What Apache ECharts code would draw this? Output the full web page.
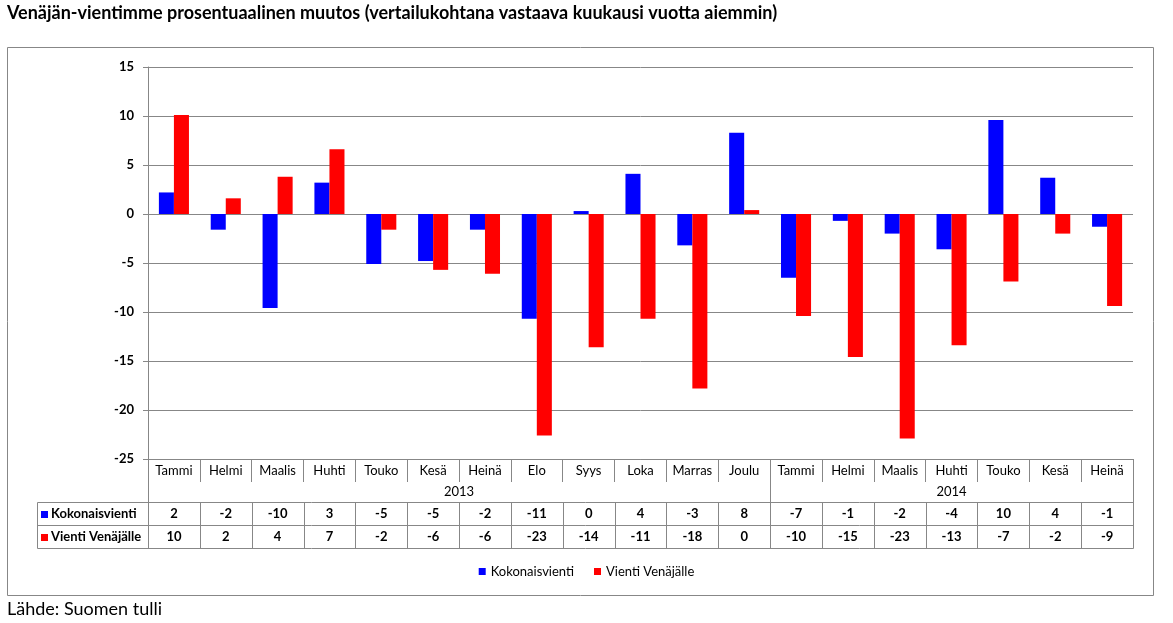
<!DOCTYPE html>
<html>
<head>
<meta charset="utf-8">
<script src="https://cdn.jsdelivr.net/npm/echarts@6/dist/echarts.min.js"></script>
<style>
html,body{margin:0;padding:0;background:#fff;}
#main{width:1173px;height:623px;}
</style>
</head>
<body>
<div id="main"></div>
<script>
const titleText = 'Venäjän-vientimme prosentuaalinen muutos (vertailukohtana vastaava kuukausi vuotta aiemmin)';
const sourceText = 'Lähde: Suomen tulli';
const months = ['Tammi','Helmi','Maalis','Huhti','Touko','Kesä','Heinä','Elo','Syys','Loka','Marras','Joulu','Tammi','Helmi','Maalis','Huhti','Touko','Kesä','Heinä'];
const yearLabels = ['2013','2014'];
const yearSpans = [12, 7];
const seriesNames = ['Kokonaisvienti','Vienti Venäjälle'];
const kokonaisvienti = [2.2,-1.6,-9.6,3.2,-5.1,-4.8,-1.6,-10.7,0.3,4.1,-3.2,8.3,-6.5,-0.7,-2.0,-3.6,9.6,3.7,-1.3];
const vientiVenajalle = [10.1,1.6,3.8,6.6,-1.6,-5.7,-6.1,-22.6,-13.6,-10.7,-17.8,0.4,-10.4,-14.6,-22.9,-13.4,-6.9,-2.0,-9.4];
const yTicks = {min:-25, max:15, interval:5};
const colors = ['#0000FF','#FF0000'];

const FONT = 'Lato';
const GRAY = '#878787';
const chart = echarts.init(document.getElementById('main'));
chart.setOption({
  animation:false,
  textStyle:{fontFamily:FONT},
  grid:{left:148,right:40,top:67,bottom:164,containLabel:false},
  legend:{
    data:seriesNames, top:560, left:'center', icon:'rect', itemWidth:7, itemHeight:7, itemGap:20,
    textStyle:{fontSize:13,color:'#000',fontFamily:FONT}
  },
  xAxis:{
    type:'category', data:months,
    axisLine:{onZero:false,lineStyle:{color:GRAY,width:1}},
    axisTick:{show:true,interval:0,length:23,lineStyle:{color:GRAY}},
    axisLabel:{interval:0,margin:5,fontSize:13,color:'#000',fontFamily:FONT},
    splitLine:{show:false}
  },
  yAxis:{
    type:'value', min:yTicks.min, max:yTicks.max, interval:yTicks.interval,
    axisLine:{show:true,lineStyle:{color:GRAY}},
    axisTick:{show:true,length:5,lineStyle:{color:GRAY}},
    axisLabel:{margin:14,fontSize:13,fontWeight:'bold',color:'#000',fontFamily:FONT},
    splitLine:{show:true,lineStyle:{color:GRAY,width:1}}
  },
  series:[
    {name:seriesNames[0],type:'bar',data:kokonaisvienti,itemStyle:{color:colors[0]},barGap:'0%',barCategoryGap:'42%'},
    {name:seriesNames[1],type:'bar',data:vientiVenajalle,itemStyle:{color:colors[1]},barGap:'0%',barCategoryGap:'42%'}
  ]
});

function fmt(v){ const r = Math.round(Math.abs(v)) * (v<0?-1:1); return String(r===0?0:r); }

const N = months.length;
const c0 = chart.convertToPixel({xAxisIndex:0}, 0);
const c1 = chart.convertToPixel({xAxisIndex:0}, 1);
const cw = c1 - c0;
const left = c0 - cw/2;
const right = left + cw*N;
const yBot = chart.convertToPixel({yAxisIndex:0}, yTicks.min);
const r1 = yBot + 23, r2 = yBot + 43, r3 = yBot + 66, r4 = yBot + 89;
const labelLeft = 37;
const g = [];
const crisp = v => Math.round(v) + 0.5;
function line(x1,y1,x2,y2){ g.push({type:'line',silent:true,shape:{x1:crisp(x1),y1:crisp(y1),x2:crisp(x2),y2:crisp(y2)},style:{stroke:GRAY,lineWidth:1}}); }
// outer frame
g.push({type:'rect',silent:true,shape:{x:7.5,y:47.5,width:1146,height:548},style:{fill:null,stroke:GRAY,lineWidth:1}});
// title & source
g.push({type:'text',left:7,top:4,style:{text:titleText,font:'bold 18px '+FONT,fill:'#000'}});
g.push({type:'text',left:7,top:600,style:{text:sourceText,font:'18px '+FONT,fill:'#000'}});
// horizontal table lines
[r2,r3,r4].forEach(y=>line(labelLeft,y,right,y));
// full height verticals
let idx = 0;
line(left,yBot,left,r4);
yearSpans.forEach((span,k)=>{
  const xs = left + cw*idx, xe = left + cw*(idx+span);
  g.push({type:'text',silent:true,style:{text:yearLabels[k],x:(xs+xe)/2,y:(r1+r2)/2,align:'center',verticalAlign:'middle',font:'13px '+FONT,fill:'#000'}});
  idx += span;
  line(xe,yBot,xe,r4);
});
line(labelLeft,r2,labelLeft,r4);
for(let i=1;i<N;i++){ line(left+cw*i,r2,left+cw*i,r4); }
// data rows
const rows = [kokonaisvienti, vientiVenajalle];
rows.forEach((arr,k)=>{
  const yt = k===0 ? r2 : r3, yb = k===0 ? r3 : r4, ym = (yt+yb)/2;
  g.push({type:'rect',silent:true,shape:{x:41,y:Math.round(ym)-3,width:7,height:7},style:{fill:colors[k]}});
  g.push({type:'text',silent:true,style:{text:seriesNames[k],x:51,y:ym,verticalAlign:'middle',font:'bold 13px '+FONT,fill:'#000'}});
  arr.forEach((v,i)=>{
    const x = chart.convertToPixel({xAxisIndex:0}, i);
    g.push({type:'text',silent:true,style:{text:fmt(v),x:x,y:ym,align:'center',verticalAlign:'middle',font:'bold 13px '+FONT,fill:'#000'}});
  });
});
chart.setOption({graphic:g});
</script>
</body>
</html>
